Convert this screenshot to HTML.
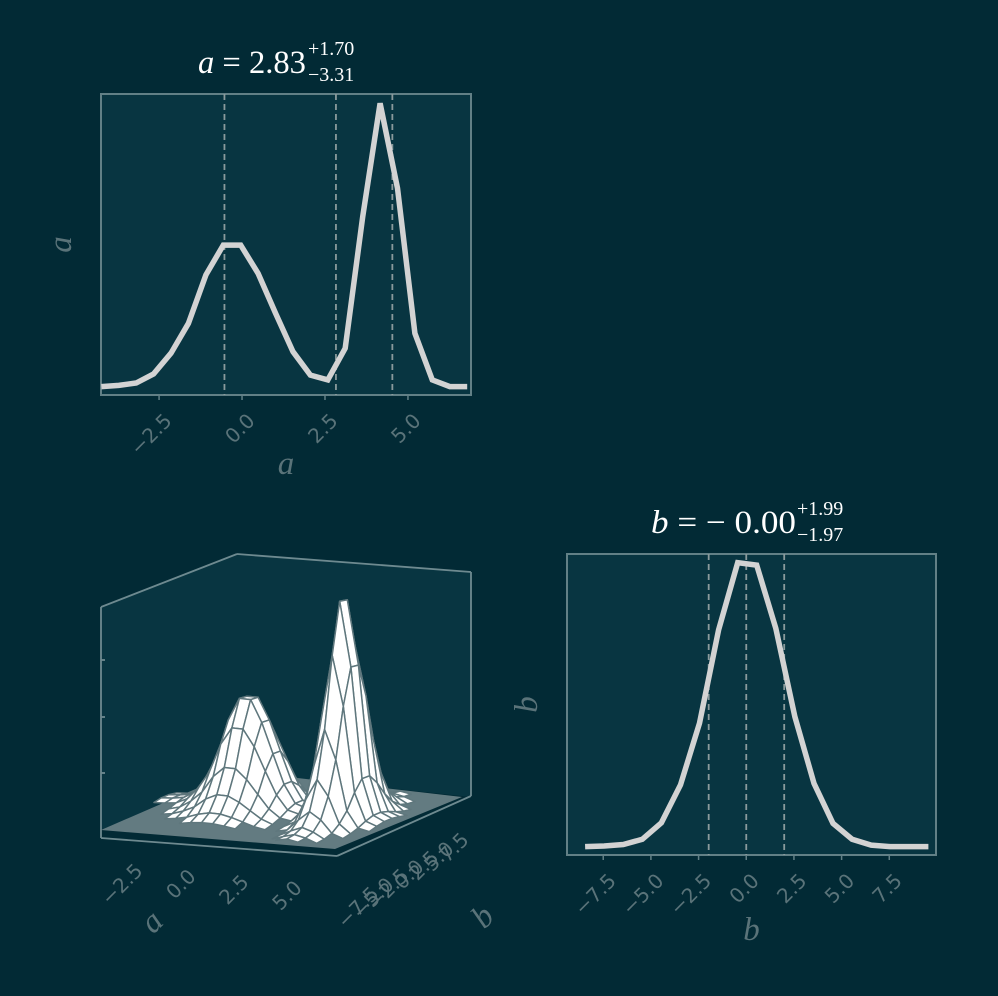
<!DOCTYPE html>
<html><head><meta charset="utf-8"><style>
html,body{margin:0;padding:0;background:#022a35;}
svg{display:block;}
.tick{fill:#5a7379;font-family:"DejaVu Sans","Liberation Sans",sans-serif;font-size:20px;}
.lab{fill:#5a7379;font-family:"Liberation Serif",serif;font-style:italic;font-size:33px;}
.ttl{fill:#ffffff;font-family:"Liberation Serif",serif;font-size:33px;}
.sc{fill:#ffffff;font-family:"Liberation Serif",serif;font-size:20px;}
</style></head><body>
<svg id="fig" width="998" height="996" viewBox="0 0 998 996" xmlns="http://www.w3.org/2000/svg">
<rect x="0" y="0" width="998" height="996" fill="#022a35"/>
<g id="g-a"></g>
<g id="g-ab"></g>
<g id="g-b"></g>
<text class="ttl" x="198" y="73" textLength="108" lengthAdjust="spacingAndGlyphs"><tspan font-style="italic">a</tspan> = 2.83</text>
<text class="sc" x="308" y="55">+1.70</text>
<text class="sc" x="308" y="81">−3.31</text>
<text class="ttl" x="651" y="533" textLength="145" lengthAdjust="spacingAndGlyphs"><tspan font-style="italic">b</tspan> =  − 0.00</text>
<text class="sc" x="797" y="515">+1.99</text>
<text class="sc" x="797" y="541">−1.97</text>
</svg>
<script>
const aCenters0 = -4.24, aStep = 0.525;
const aDensity = [0.028,0.032,0.040,0.070,0.139,0.238,0.399,0.498,0.498,0.404,0.272,0.144,0.066,0.050,0.155,0.592,0.969,0.687,0.205,0.050,0.028,0.028];
const bCenters0 = -8.45, bStep = 1.0;
const bDensity = [0.028,0.030,0.035,0.052,0.107,0.233,0.438,0.748,0.971,0.963,0.753,0.459,0.238,0.105,0.052,0.033,0.028,0.028,0.028];
const aQuantiles = [-0.53, 2.83, 4.53];
const bQuantiles = [-1.97, 0.0, 1.99];
const aTicks = [-2.5, 0.0, 2.5, 5.0];
const aTickLabels = ["−2.5","0.0","2.5","5.0"];
const bTicks = [-7.5, -5.0, -2.5, 0.0, 2.5, 5.0, 7.5];
const bTickLabels = ["−7.5","−5.0","−2.5","0.0","2.5","5.0","7.5"];

const NS="http://www.w3.org/2000/svg";
function mk(tag, attrs, parent){const e=document.createElementNS(NS,tag);for(const k in attrs)e.setAttribute(k,attrs[k]);parent.appendChild(e);return e;}
const SP="#628086", CURVE="#d3d3d3", AXBG="#083541";

function hist1d(g, box, x0, step, dens, xMin, xMax, quant, ticks, tickLabels, lab, labOff){
  const sx=v=>box.x+(v-xMin)/(xMax-xMin)*box.w;
  const sy=v=>box.y+box.h-v*box.h;
  const bg=mk('rect',{x:box.x,y:box.y,width:box.w,height:box.h,fill:AXBG,stroke:SP,'stroke-width':2},g);
  
  
  quant.forEach(q=>{
    const l=mk('line',{x1:sx(q),x2:sx(q),y1:box.y,y2:box.y+box.h,stroke:'#8a9a9c','stroke-width':1.8,'stroke-dasharray':'6,4'},g);
    
    
  });
  const pts=dens.map((d,i)=>sx(x0+i*step).toFixed(1)+','+sy(d).toFixed(1)).join(' ');
  const pl=mk('polyline',{points:pts,fill:'none',stroke:CURVE,'stroke-width':5.5,'stroke-linejoin':'miter'},g);
  
  
  ticks.forEach((t,i)=>{
    const x=sx(t);
    const tk=mk('line',{x1:x,x2:x,y1:box.y+box.h,y2:box.y+box.h+5,stroke:SP,'stroke-width':1.5},g);
    
    
    const ax=x+14, ay=box.y+box.h+27;
    const tx=mk('text',{class:'tick',x:ax,y:ay,'text-anchor':'end',transform:`rotate(-45 ${ax} ${ay})`},g);
    tx.textContent=tickLabels[i];
    
    
  });
  const xl=mk('text',{class:'lab',x:box.x+box.w/2,y:box.y+box.h+labOff,'text-anchor':'middle'},g);
  xl.textContent=lab;
  
  
  const yx=box.x-30, yy=box.y+box.h/2;
  const yl=mk('text',{class:'lab',x:yx,y:yy,'text-anchor':'middle',transform:`rotate(-90 ${yx} ${yy})`},g);
  yl.textContent=lab;
  
  
}
hist1d(document.getElementById('g-a'),{x:101,y:94,w:370,h:301},aCenters0,aStep,aDensity,-4.25,6.9,aQuantiles,aTicks,aTickLabels,'a',79);
hist1d(document.getElementById('g-b'),{x:567,y:554,w:369,h:301},bCenters0,bStep,bDensity,-9.4,9.95,bQuantiles,bTicks,bTickLabels,'b',85);

// 3D surface panel
(function(){
  const g=document.getElementById('g-ab');
  const aMin=aCenters0, aMax=aCenters0+(aDensity.length-1)*aStep;
  const bMin=bCenters0, bMax=bCenters0+(bDensity.length-1)*bStep;
  const O=[101,830], Ea=[234,25], Eb=[136,-58], H=236;
  const P=(a,b,z)=>{const ta=(a-aMin)/(aMax-aMin), tb=(b-bMin)/(bMax-bMin);return [O[0]+ta*Ea[0]+tb*Eb[0], O[1]+ta*Ea[1]+tb*Eb[1]-z*H];};
  const poly=(pts,attrs,name)=>{const e=mk('polygon',Object.assign({points:pts.map(p=>p[0].toFixed(1)+','+p[1].toFixed(1)).join(' ')},attrs),g);return e;};
  poly([[101,607],[237,554],[237,772],[101,830]],{fill:AXBG},'left-pane');
  poly([[237,554],[471,572],[471,797],[237,772]],{fill:AXBG},'back-pane');
  poly([[101,830],[335,849],[462,797],[237,771]],{fill:'#637b81'},'floor-pane');
  const ln=(x1,y1,x2,y2,name)=>{const e=mk('line',{x1,y1,x2,y2,stroke:'#6e8a90','stroke-width':1.8},g);};
  ln(101,607,237,554,'pane-edge');ln(237,554,471,572,'pane-edge');ln(471,572,471,796,'pane-edge');
  ln(101,607,101,838,'z-axis-line');ln(101,838,337,856,'a-axis-line');ln(337,856,471,796,'b-axis-line');
  [660,717,773].forEach(y=>ln(101,y,105,y,'z-tick'));
  const quads=[];
  for(let i=0;i<aDensity.length-1;i++)for(let j=0;j<bDensity.length-1;j++){
    const z=(ii,jj)=>aDensity[ii]*bDensity[jj];
    const mx=Math.max(z(i,j),z(i+1,j),z(i,j+1),z(i+1,j+1));
    if(mx<0.03)continue;
    const a0=aMin+i*aStep,a1=a0+aStep,b0=bMin+j*bStep,b1=b0+bStep;
    const pts=[P(a0,b0,z(i,j)),P(a1,b0,z(i+1,j)),P(a1,b1,z(i+1,j+1)),P(a0,b1,z(i,j+1))];
    const depth=P((a0+a1)/2,(b0+b1)/2,0)[1];
    quads.push({pts,depth});
  }
  quads.sort((p,q)=>p.depth-q.depth);
  quads.forEach(q=>poly(q.pts,{fill:'#ffffff',stroke:'#5f777d','stroke-width':1.5,'stroke-linejoin':'round'},'surface-cell'));
  aTicks.forEach((t,i)=>{
    const p=P(t,bMin,0);const x=p[0]+6,y=p[1]+38;
    const tx=mk('text',{class:'tick',x,y,'text-anchor':'end',transform:`rotate(-45 ${x} ${y})`},g);
    tx.textContent=aTickLabels[i];
    
    
  });
  bTicks.forEach((t,i)=>{
    const x=380+i*15, y=895-i*9;
    const tx=mk('text',{class:'tick',x,y,'text-anchor':'end',transform:`rotate(-45 ${x} ${y})`},g);
    tx.textContent=bTickLabels[i];
    
    
  });
  const al=mk('text',{class:'lab',x:152,y:932,'text-anchor':'middle',transform:'rotate(-45 152 922)'},g);
  al.textContent='a';
  
  
  const bl=mk('text',{class:'lab',x:483,y:927,'text-anchor':'middle',transform:'rotate(-45 483 917)'},g);
  bl.textContent='b';
  
  
})();
</script>
</body></html>
